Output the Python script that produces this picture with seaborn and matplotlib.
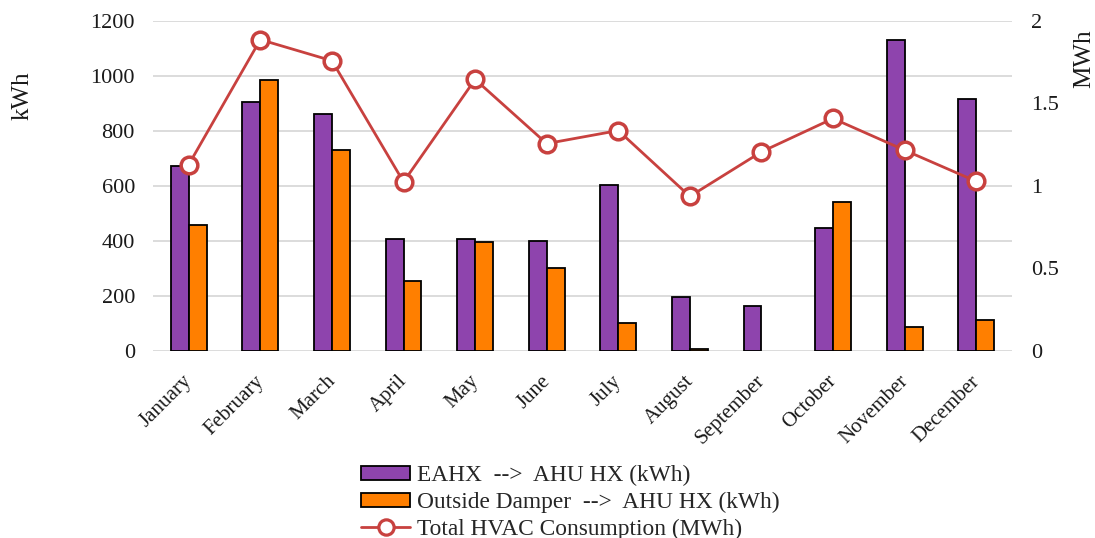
import numpy as np
import pandas as pd
import matplotlib
matplotlib.use("Agg")
import matplotlib.pyplot as plt
import matplotlib.transforms as mtransforms
import seaborn as sns
from matplotlib.patches import Patch
from matplotlib.lines import Line2D

months = ["January", "February", "March", "April", "May", "June", "July",
          "August", "September", "October", "November", "December"]
eahx_kwh = [672, 904, 862, 408, 407, 400, 602, 197, 164, 448, 1131, 916]
damper_kwh = [458, 985, 731, 255, 395, 301, 100, 9, 0, 542, 87, 113]
total_mwh = [1.13, 1.887, 1.759, 1.025, 1.646, 1.257, 1.336, 0.937, 1.207,
             1.409, 1.217, 1.028]

label_eahx = "EAHX  -->  AHU HX (kWh)"
label_damper = "Outside Damper  -->  AHU HX (kWh)"
label_total = "Total HVAC Consumption (MWh)"

purple = "#8E44AD"
orange = "#FF7F00"
red = "#C8413F"
text_color = "#1a1a1a"

sns.set_theme(style="white")
plt.rcParams["font.family"] = ["Liberation Serif", "DejaVu Serif"]

df = pd.DataFrame({
    "month": months * 2,
    "kwh": eahx_kwh + damper_kwh,
    "series": [label_eahx] * 12 + [label_damper] * 12,
})

fig = plt.figure(figsize=(10.95, 5.38), dpi=100)
ax = fig.add_axes([0.1397, 0.3476, 0.7845, 0.6134])

sns.barplot(data=df, x="month", y="kwh", hue="series", order=months,
            hue_order=[label_eahx, label_damper],
            palette=[purple, orange], width=0.5, edgecolor="black",
            linewidth=1.3, saturation=1, ax=ax, legend=False)
# empty months get no outline
for bar in ax.patches:
    if bar.get_height() == 0:
        bar.set_visible(False)

ax.set_ylim(0, 1200)
ax.set_yticks(np.arange(0, 1201, 200))
ax.set_xlim(-0.5, 11.5)
ax.grid(axis="y", color="#D9D9D9", linewidth=1.3)
ax.set_axisbelow(True)
ax.set_xlabel("")
ax.set_ylabel("")
for s in ax.spines.values():
    s.set_visible(False)
ax.tick_params(axis="y", length=0, labelsize=16, colors=text_color, pad=13)
ax.tick_params(axis="x", length=0, labelsize=15, colors=text_color, pad=15)
ax.set_xticks(range(len(months)))
ax.set_xticklabels(months, rotation=45, ha="right", rotation_mode="anchor")
shift = mtransforms.ScaledTranslation(-0.06, 0, fig.dpi_scale_trans)
for t in ax.get_xticklabels():
    t.set_transform(t.get_transform() + shift)

ax2 = ax.twinx()
sns.lineplot(x=np.arange(len(months)), y=total_mwh, ax=ax2, color=red,
             linewidth=2, marker="o", markersize=12, markerfacecolor="white",
             markeredgecolor=red, markeredgewidth=2.5, sort=False)
ax2.set_ylim(0, 2)
ax2.set_yticks([0, 0.5, 1, 1.5, 2])
ax2.set_yticklabels(["0", "0.5", "1", "1.5", "2"])
ax2.set_ylabel("")
for s in ax2.spines.values():
    s.set_visible(False)
ax2.tick_params(axis="y", length=0, labelsize=16, colors=text_color, pad=14)
ax2.grid(False)
ax.set_xlim(-0.5, 11.5)

fig.text(0.021, 0.822, "kWh", rotation=90, ha="center", va="center",
         fontsize=18, color=text_color)
fig.text(0.99, 0.89, "MWh", rotation=90, ha="center", va="center",
         fontsize=18, color=text_color)

handles = [
    Patch(facecolor=purple, edgecolor="black", linewidth=1.3, label=label_eahx),
    Patch(facecolor=orange, edgecolor="black", linewidth=1.3, label=label_damper),
    Line2D([0], [0], color=red, linewidth=2, marker="o", markersize=11,
           markerfacecolor="white", markeredgecolor=red, markeredgewidth=2.3,
           label=label_total),
]
fig.legend(handles=handles, loc="upper left", bbox_to_anchor=(0.330, 0.135),
           frameon=False, fontsize=16.8, handlelength=2.1, handleheight=0.55,
           handletextpad=0.3, labelspacing=0.24, borderaxespad=0, borderpad=0)

fig.savefig("out.png", dpi=100)
